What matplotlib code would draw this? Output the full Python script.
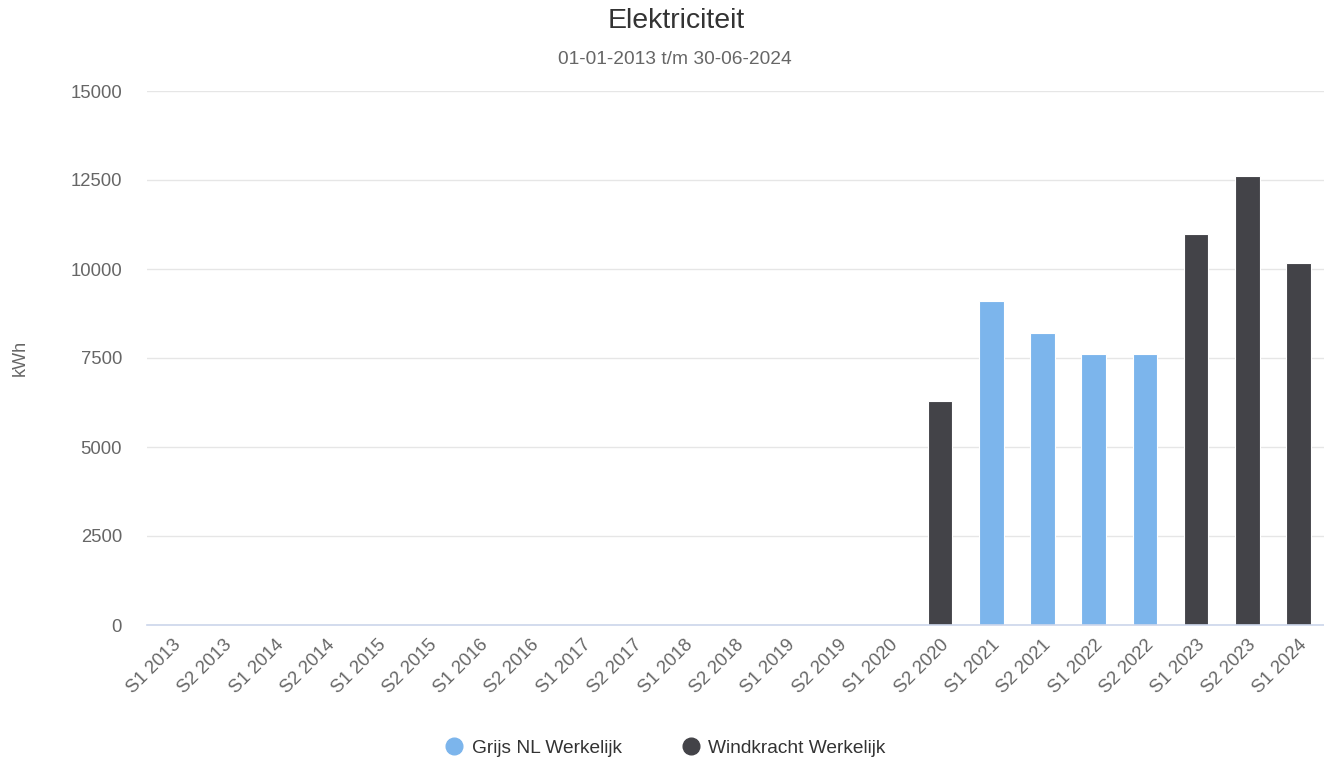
import matplotlib
matplotlib.use("Agg")
from matplotlib import pyplot as plt
from matplotlib.lines import Line2D
import numpy as np

plt.rcParams['font.family'] = ['Liberation Sans', 'DejaVu Sans']

# data
categories = ['S1 2013', 'S2 2013', 'S1 2014', 'S2 2014', 'S1 2015', 'S2 2015',
              'S1 2016', 'S2 2016', 'S1 2017', 'S2 2017', 'S1 2018', 'S2 2018',
              'S1 2019', 'S2 2019', 'S1 2020', 'S2 2020', 'S1 2021', 'S2 2021',
              'S1 2022', 'S2 2022', 'S1 2023', 'S2 2023', 'S1 2024']
grijs = [0, 0, 0, 0, 0, 0, 0, 0, 0, 0, 0, 0, 0, 0, 0,
         0, 9090, 8190, 7600, 7600, 0, 0, 0]
wind = [0, 0, 0, 0, 0, 0, 0, 0, 0, 0, 0, 0, 0, 0, 0,
        6280, 0, 0, 0, 0, 10980, 12620, 10180]
yticks = [0, 2500, 5000, 7500, 10000, 12500, 15000]

c_grijs = '#7cb5ec'
c_wind = '#434348'

fig = plt.figure(figsize=(13.24, 7.6), dpi=100)
ax = fig.add_axes([147/1324, 1 - 625/760, 1 - 147/1324, (625 - 91)/760])

x = np.arange(len(categories))
ax.bar(x, grijs, width=0.48, color=c_grijs, edgecolor='white', linewidth=0.8, zorder=3)
ax.bar(x, wind, width=0.48, color=c_wind, edgecolor='white', linewidth=0.8, zorder=3)

ax.set_xlim(-0.5, len(categories) - 0.5)
ax.set_ylim(0, 15000)
ax.set_yticks(yticks)
ax.set_yticklabels([str(v) for v in yticks])
ax.set_xticks(x)
ax.set_xticklabels(categories, rotation=45, ha='right', rotation_mode='anchor')
ax.tick_params(axis='y', length=0, pad=18, labelsize=13.3, labelcolor='#666666')
ax.tick_params(axis='x', length=0, pad=8, labelsize=13.3, labelcolor='#666666')

ax.grid(axis='y', color='#e6e6e6', linewidth=1, zorder=0)
for s in ['top', 'right', 'left']:
    ax.spines[s].set_visible(False)
ax.spines['bottom'].set_color('#ccd6eb')
ax.spines['bottom'].set_linewidth(1.2)
ax.spines['bottom'].set_zorder(4)

fig.text(20/1324, 1 - 358/760, 'kWh', rotation=90, ha='center', va='center',
         fontsize=13, color='#666666')

fig.text(676/1324, 1 - 21/760, 'Elektriciteit', ha='center', va='center',
         fontsize=20.5, color='#333333')
fig.text(675/1324, 1 - 59/760, '01-01-2013 t/m 30-06-2024', ha='center', va='center',
         fontsize=13.8, color='#666666')

handles = [Line2D([], [], marker='o', linestyle='', markersize=12, color=c_grijs),
           Line2D([], [], marker='o', linestyle='', markersize=12, color=c_wind)]
fig.legend(handles, ['Grijs NL Werkelijk', 'Windkracht Werkelijk'],
           loc='center', bbox_to_anchor=(664/1324, 1 - 748/760), ncol=2,
           frameon=False, fontsize=13.8, labelcolor='#333333',
           handletextpad=0.3, columnspacing=3.0, handlelength=1.2)

fig.savefig('out.png', dpi=100)
